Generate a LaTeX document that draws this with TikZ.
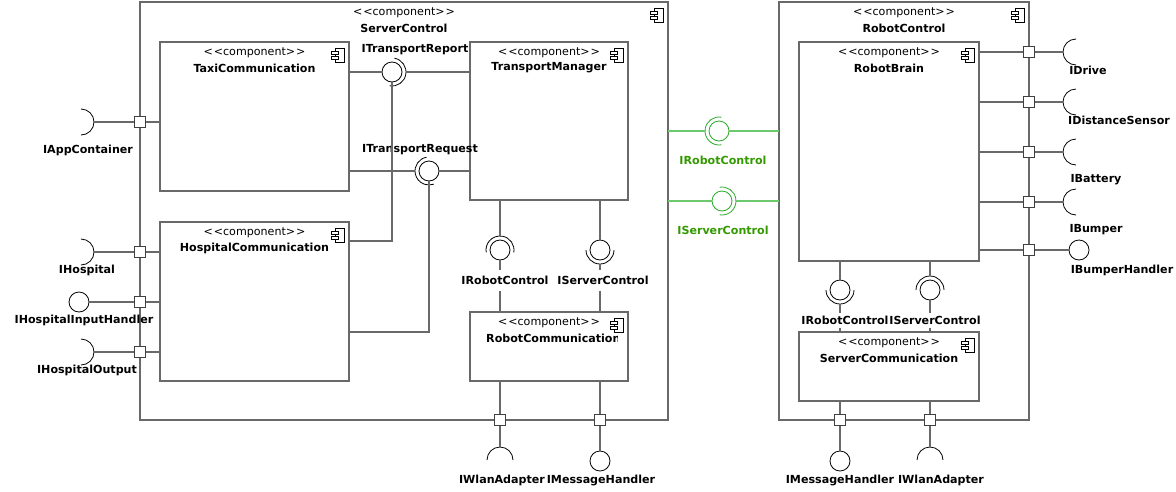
\documentclass[tikz,border=0pt]{standalone}
\usepackage{fontspec}
\setmainfont{DejaVu Sans}
\usetikzlibrary{calc}
\definecolor{wiregray}{RGB}{105,105,105}
\definecolor{linkgreen}{RGB}{110,200,110}
\definecolor{ballgreen}{RGB}{40,170,40}
\definecolor{textgreen}{RGB}{51,153,0}
\begin{document}
\begin{tikzpicture}[x=1pt,y=-1pt,
  box/.style={draw=wiregray,line width=1.2pt,anchor=north west,inner sep=0pt,outer sep=0pt},
  port/.style={draw=black!75,fill=white,line width=0.8pt,minimum size=11pt,inner sep=0pt},
  ball/.style={draw,circle,line width=0.8pt,minimum size=20pt,inner sep=0pt},
  hole/.style={circle,minimum size=26pt,inner sep=0pt},
  wire/.style={draw=wiregray,line width=1.2pt},
  cup/.style={draw,line width=0.8pt},
  lbl/.style={font=\bfseries,inner sep=1pt},
  stereo/.style={inner sep=0pt}]
\fontsize{11.1}{13}\selectfont
\useasboundingbox (0,0) rectangle (1176,491);
\newcommand\icon[1]{
\draw[fill=white,line width=0.7pt] ($(#1.north east)+(-14,6)$) rectangle ($(#1.north east)+(-5,20)$);
\draw[fill=white,line width=0.7pt] ($(#1.north east)+(-18,9)$) rectangle ++(7,3);
\draw[fill=white,line width=0.7pt] ($(#1.north east)+(-18,14)$) rectangle ++(7,3);
}
\newcommand\comp[6]{
\node[box,minimum width=#4,minimum height=#5] (#1) at (#2,#3) {};
\node[stereo] at ([yshift=-11pt]#1.north) {<\kern1pt<component>\kern1pt>};
\node[stereo,font=\bfseries] at ([yshift=-26pt]#1.north) {#6};
\icon{#1}
}
\newcommand\socket[5][]{\draw[cup,#1] ([shift={(#4:#3)}]#2.center) arc[start angle=#4,end angle=#5,radius=#3];}
\comp{sc}{140}{2}{528pt}{418pt}{ServerControl}
\comp{rc}{779}{2}{250pt}{418pt}{RobotControl}
\comp{taxi}{160}{42}{189pt}{149pt}{TaxiCommunication}
\comp{hosp}{160}{222}{189pt}{159pt}{HospitalCommunication}
\comp{tm}{470}{42}{158pt}{158pt}{TransportManager}
\comp{rcomm}{470}{312}{158pt}{69pt}{}
\begin{scope}
\clip (rcomm.north west) rectangle ([xshift=-11pt]rcomm.south east);
\node[stereo,font=\bfseries,anchor=west] (rcname) at (486,338) {RobotCommunication};
\end{scope}
\comp{brain}{799}{42}{180pt}{219pt}{RobotBrain}
\comp{scomm}{799}{332}{180pt}{69pt}{ServerCommunication}
\foreach \n/\x/\y in {papp/140/122, phosp/140/252, phin/140/302, phout/140/352,
  pwlan/500/420, pmsg/600/420, pdrive/1029/52, pdist/1029/102, pbatt/1029/152,
  pbump/1029/202, pbumph/1029/250, pmsgr/840/420, pwlanr/930/420}
  \node[port] (\n) at (\x,\y) {};
\node[ball] (hinball) at (79,302) {};
\node[ball] (msgball) at (600,461) {};
\node[ball] (msgrball) at (840,461) {};
\node[ball] (bumphball) at (1079,250) {};
\node[ball] (trep) at (392,72) {};
\node[ball] (treq) at (429,171) {};
\node[ball] (rcball) at (500,250) {};
\node[ball] (scball) at (600,250) {};
\node[ball] (rcballr) at (840,290) {};
\node[ball] (scballr) at (930,290) {};
\node[ball,draw=ballgreen] (grc) at (719,131) {};
\node[ball,draw=ballgreen] (gsc) at (722,201) {};
\foreach \n/\x/\y in {appsk/81/122, hospsk/81/252, houtsk/81/352, wlansk/500/460,
  wlanrsk/930/460, drivesk/1076/52, distsk/1076/102, battsk/1076/152, bumpsk/1076/202}
  \node[hole] (\n) at (\x,\y) {};
\socket{appsk}{13pt}{90}{-90}
\socket{hospsk}{13pt}{90}{-90}
\socket{houtsk}{13pt}{90}{-90}
\socket{wlansk}{13pt}{0}{180}
\socket{wlanrsk}{13pt}{0}{180}
\socket{drivesk}{13pt}{90}{270}
\socket{distsk}{13pt}{90}{270}
\socket{battsk}{13pt}{90}{270}
\socket{bumpsk}{13pt}{90}{270}
\socket{trep}{14pt}{80}{-100}
\socket{treq}{14pt}{100}{290}
\socket{rcball}{14pt}{-10}{190}
\socket{scball}{14pt}{180}{360}
\socket{rcballr}{14pt}{180}{360}
\socket{scballr}{14pt}{0}{180}
\socket[draw=ballgreen]{grc}{14pt}{80}{280}
\socket[draw=ballgreen]{gsc}{14pt}{100}{-100}
\node[lbl] (applab) at (88,150) {IAppContainer};
\node[lbl] (hosplab) at (87,270) {IHospital};
\node[lbl] (hinlab) at (84,320) {IHospitalInputHandler};
\node[lbl] (houtlab) at (87,370) {IHospitalOutput};
\node[lbl] (treplab) at (415,50) {ITransportReport};
\node[lbl] (treqlab) at (420,150) {ITransportRequest};
\node[lbl,inner ysep=6pt] (rclab) at (505,280) {IRobotControl};
\node[lbl,inner ysep=6pt] (sclab) at (603,280) {IServerControl};
\node[lbl] (wlanlab) at (502,480) {IWlanAdapter};
\node[lbl] (msglab) at (601,480) {IMessageHandler};
\node[lbl,text=textgreen] (grclab) at (723,160) {IRobotControl};
\node[lbl,text=textgreen] (gsclab) at (723,230) {IServerControl};
\node[lbl] (drivelab) at (1088,70) {IDrive};
\node[lbl] (distlab) at (1119,120) {IDistanceSensor};
\node[lbl] (battlab) at (1096,180) {IBattery};
\node[lbl] (bumplab) at (1096,230) {IBumper};
\node[lbl] (bumphlab) at (1122,270) {IBumperHandler};
\node[lbl,inner ysep=3pt] (rclabr) at (845,320) {IRobotControl};
\node[lbl,inner ysep=3pt] (sclabr) at (935,320) {IServerControl};
\node[lbl] (msgrlab) at (840,480) {IMessageHandler};
\node[lbl] (wlanrlab) at (941,480) {IWlanAdapter};
\foreach \p/\s in {papp/appsk, phosp/hospsk, phout/houtsk}{
  \draw[wire] (\p.east) -- (\p.east -| taxi.west);
  \draw[wire] (\p.west) -- (\s.east);
}
\draw[wire] (phin.east) -- (phin.east -| hosp.west);
\draw[wire] (phin.west) -- (hinball.east);
\draw[wire] (trep -| taxi.east) -- (trep.west);
\draw[wire] ([xshift=14pt]trep.center) -- (trep -| tm.west);
\draw[wire] (trep.south) |- ([yshift=-19pt]hosp.north east);
\draw[wire] (treq -| taxi.east) -- ([xshift=-14pt]treq.center);
\draw[wire] (treq.east) -- (treq -| tm.west);
\draw[wire] (treq.south) |- ([yshift=-110pt]hosp.north east);
\draw[wire] (rcball |- tm.south) -- ([yshift=14pt]rcball.center);
\draw[wire] (rcball.south) -- (rcball |- rclab.north);
\draw[wire] (rcball |- rclab.south) -- (rcball |- rcomm.north);
\draw[wire] (scball |- tm.south) -- (scball.north);
\draw[wire] ([yshift=-14pt]scball.center) -- (scball |- sclab.north);
\draw[wire] (scball |- sclab.south) -- (scball |- rcomm.north);
\draw[wire] (pwlan |- rcomm.south) -- (pwlan.north);
\draw[wire] (pwlan.south) -- (wlansk.north);
\draw[wire] (pmsg |- rcomm.south) -- (pmsg.north);
\draw[wire] (pmsg.south) -- (msgball.north);
\draw[wire,draw=linkgreen] (grc -| sc.east) -- ([xshift=-14pt]grc.center);
\draw[wire,draw=linkgreen] (grc.east) -- (grc -| rc.west);
\draw[wire,draw=linkgreen] (gsc -| sc.east) -- (gsc.west);
\draw[wire,draw=linkgreen] ([xshift=14pt]gsc.center) -- (gsc -| rc.west);
\foreach \p/\s in {pdrive/drivesk, pdist/distsk, pbatt/battsk, pbump/bumpsk}{
  \draw[wire] (\p.west -| brain.east) -- (\p.west);
  \draw[wire] (\p.east) -- (\s.west);
}
\draw[wire] (pbumph.west -| brain.east) -- (pbumph.west);
\draw[wire] (pbumph.east) -- (bumphball.west);
\draw[wire] (rcballr |- brain.south) -- (rcballr.north);
\draw[wire] ([yshift=-14pt]rcballr.center) -- (rcballr |- rclabr.north);
\draw[wire] (rcballr |- rclabr.south) -- (rcballr |- scomm.north);
\draw[wire] (scballr |- brain.south) -- ([yshift=14pt]scballr.center);
\draw[wire] (scballr.south) -- (scballr |- sclabr.north);
\draw[wire] (scballr |- sclabr.south) -- (scballr |- scomm.north);
\draw[wire] (pmsgr |- scomm.south) -- (pmsgr.north);
\draw[wire] (pmsgr.south) -- (msgrball.north);
\draw[wire] (pwlanr |- scomm.south) -- (pwlanr.north);
\draw[wire] (pwlanr.south) -- (wlanrsk.north);
\end{tikzpicture}
\end{document}
